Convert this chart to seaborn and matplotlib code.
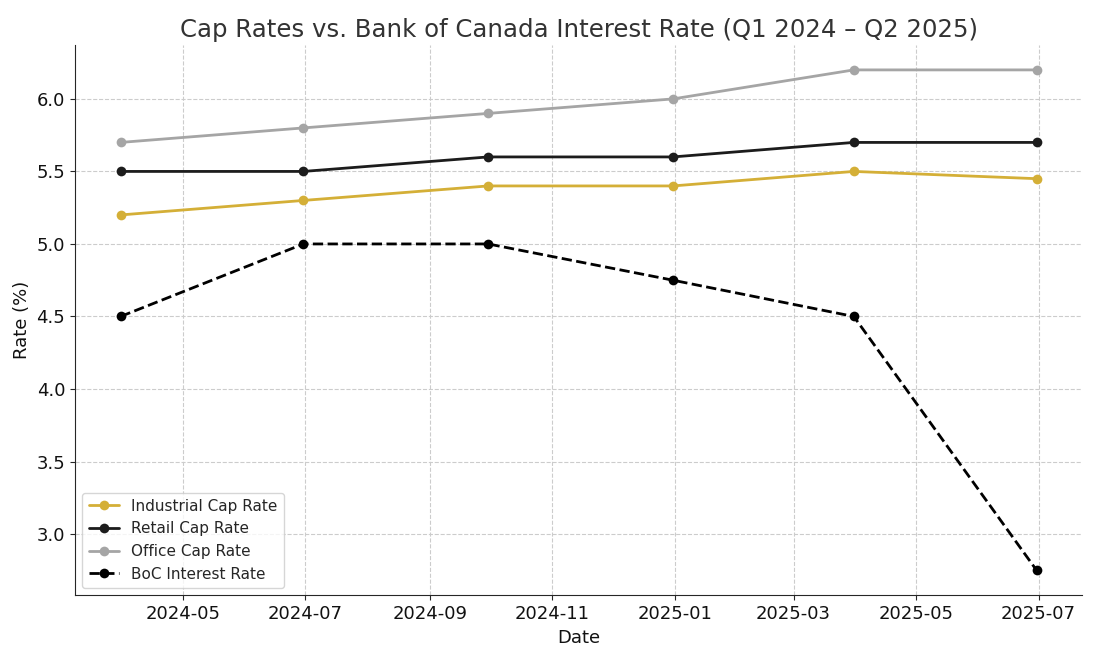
import matplotlib
matplotlib.use("Agg")
import matplotlib.pyplot as plt
import pandas as pd
import seaborn as sns

# quarter-end dates and rates (%)
dates = ["2024-03-31", "2024-06-30", "2024-09-30", "2024-12-31", "2025-03-31", "2025-06-30"]
industrial = [5.2, 5.3, 5.4, 5.4, 5.5, 5.45]
retail = [5.5, 5.5, 5.6, 5.6, 5.7, 5.7]
office = [5.7, 5.8, 5.9, 6.0, 6.2, 6.2]
boc = [4.5, 5.0, 5.0, 4.75, 4.5, 2.75]

series = [
    ("Industrial Cap Rate", industrial, "#D4AF37", "-"),
    ("Retail Cap Rate", retail, "#1c1c1c", "-"),
    ("Office Cap Rate", office, "#A5A5A5", "-"),
    ("BoC Interest Rate", boc, "black", "--"),
]

sns.set_style("ticks")
plt.rcParams['font.family'] = ['DejaVu Sans']

fig, ax = plt.subplots(figsize=(11, 6.6), dpi=100)
x = pd.to_datetime(dates)
for name, vals, color, ls in series:
    df = pd.DataFrame({"Date": x, "Rate": vals})
    sns.lineplot(data=df, x="Date", y="Rate", ax=ax, color=color, linestyle=ls,
                 marker="o", markersize=7, markeredgewidth=0, linewidth=2, label=name)

ax.set_title("Cap Rates vs. Bank of Canada Interest Rate (Q1 2024 – Q2 2025)", fontsize=17.6, color="#333333")
ax.set_xlabel("Date", fontsize=13, color="#111111")
ax.set_ylabel("Rate (%)", fontsize=13, color="#111111")
ax.tick_params(labelsize=13, labelcolor="#111111")
ax.grid(True, linestyle="--", color="#cccccc", linewidth=0.8)
sns.despine(ax=ax)
ax.legend(loc="lower left", fontsize=11)

fig.subplots_adjust(left=0.068, right=0.984, top=0.932, bottom=0.098)
fig.savefig("out.png", dpi=100)
